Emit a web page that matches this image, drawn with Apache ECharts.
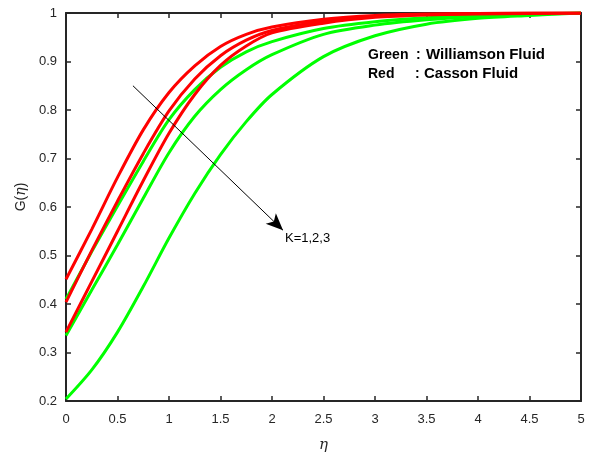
<!DOCTYPE html>
<html>
<head>
<meta charset="utf-8">
<script src="https://cdn.jsdelivr.net/npm/echarts@6/dist/echarts.min.js"></script>
<style>
  html, body { margin: 0; padding: 0; background: #fff; }
  #chart { width: 594px; height: 458px; }
</style>
</head>
<body>
<div id="chart"></div>
<script>
// eta values and G(eta)
const eta = [0, 0.25, 0.5, 0.75, 1, 1.25, 1.5, 1.75, 2, 2.5, 3, 3.5, 4, 4.5, 5];

// Williamson fluid (green), K = 1, 2, 3
const williamsonK1 = [0.410, 0.508, 0.602, 0.694, 0.780, 0.842, 0.888, 0.920, 0.941, 0.968, 0.982, 0.990, 0.995, 0.998, 1.0];
const williamsonK2 = [0.335, 0.429, 0.522, 0.618, 0.712, 0.787, 0.842, 0.883, 0.914, 0.956, 0.975, 0.986, 0.993, 0.997, 1.0];
const williamsonK3 = [0.204, 0.264, 0.342, 0.436, 0.536, 0.628, 0.708, 0.776, 0.832, 0.910, 0.953, 0.977, 0.989, 0.995, 1.0];

// Casson fluid (red), K = 1, 2, 3
const cassonK1 = [0.451, 0.554, 0.661, 0.759, 0.836, 0.891, 0.931, 0.956, 0.971, 0.987, 0.995, 0.998, 0.999, 1.0, 1.0];
const cassonK2 = [0.404, 0.510, 0.612, 0.710, 0.798, 0.864, 0.912, 0.944, 0.964, 0.983, 0.993, 0.997, 0.999, 1.0, 1.0];
const cassonK3 = [0.342, 0.446, 0.550, 0.654, 0.752, 0.832, 0.892, 0.932, 0.959, 0.979, 0.991, 0.996, 0.998, 0.999, 1.0];

// arrow annotation (data coords): tail and tip
const arrowFrom = [0.65, 0.85];
const arrowTo = [2.107, 0.552];

const axisColor = "#262626";
const font = "'Liberation Sans', Arial, sans-serif";

function pairs(ys) {
  return eta.map((x, i) => [x, ys[i]]);
}

function curve(name, color, ys) {
  return {
    name: name,
    type: "line",
    data: pairs(ys),
    smooth: 0.3,
    showSymbol: false,
    lineStyle: { color: color, width: 3 },
    itemStyle: { color: color },
    silent: true,
  };
}

const frameAxis = {
  min: 0,
  max: 5,
  interval: 0.5,
  axisLine: { show: true, onZero: false, lineStyle: { color: axisColor, width: 2 } },
  axisTick: { show: true, inside: true, length: 5, lineStyle: { color: axisColor, width: 1.5 } },
  splitLine: { show: false },
};

let myChart = echarts.init(document.getElementById("chart"));

const option = {
  animation: false,
  backgroundColor: "#fff",
  grid: { left: 66, right: 13, top: 13, bottom: 56 },
  xAxis: [
    Object.assign({}, frameAxis, {
      type: "value",
      position: "bottom",
      name: "η",
      nameLocation: "middle",
      nameGap: 37,
      nameTextStyle: { fontFamily: "'DejaVu Serif', serif", fontStyle: "italic", fontSize: 15, color: axisColor },
      axisLabel: { margin: 12, color: axisColor, fontSize: 13, fontFamily: font },
    }),
    Object.assign({}, frameAxis, {
      type: "value",
      position: "top",
      axisLabel: { show: false },
    }),
  ],
  yAxis: [
    Object.assign({}, frameAxis, {
      type: "value",
      position: "left",
      min: 0.2,
      max: 1,
      interval: 0.1,
      name: "{n|G(}{e|η}{n|)}",
      nameLocation: "middle",
      nameGap: 37,
      nameTextStyle: {
        padding: [0, 0, 0, 20],
        rich: {
          n: { fontFamily: font, fontSize: 14, color: axisColor },
          e: { fontFamily: "'DejaVu Serif', serif", fontStyle: "italic", fontSize: 14, color: axisColor },
        },
      },
      axisLabel: { margin: 9, color: axisColor, fontSize: 13, fontFamily: font },
    }),
    Object.assign({}, frameAxis, {
      type: "value",
      position: "right",
      min: 0.2,
      max: 1,
      interval: 0.1,
      axisLabel: { show: false },
    }),
  ],
  series: [
    curve("Williamson K=1", "#00ff00", williamsonK1),
    curve("Williamson K=2", "#00ff00", williamsonK2),
    curve("Williamson K=3", "#00ff00", williamsonK3),
    curve("Casson K=1", "#ff0000", cassonK1),
    curve("Casson K=2", "#ff0000", cassonK2),
    Object.assign(curve("Casson K=3", "#ff0000", cassonK3), {
      markLine: {
        silent: true,
        symbol: ["none", "arrow"],
        symbolSize: [11, 17],
        label: { show: false },
        lineStyle: { color: "#000", width: 1, type: "solid" },
        emphasis: { disabled: true },
        data: [[{ coord: arrowFrom }, { coord: arrowTo }]],
      },
    }),
  ],
  graphic: [
    { type: "text", left: 285, top: 232, style: { text: "K=1,2,3", fontSize: 13, fontFamily: font, fill: "#000" } },
    { type: "text", left: 368, top: 48, style: { text: "Green", fontSize: 14, fontWeight: "bold", fontFamily: font, fill: "#000" } },
    { type: "text", left: 416, top: 48, style: { text: ":", fontSize: 14, fontWeight: "bold", fontFamily: font, fill: "#000" } },
    { type: "text", left: 426, top: 47, style: { text: "Williamson Fluid", fontSize: 15, fontWeight: "bold", fontFamily: font, fill: "#000" } },
    { type: "text", left: 368, top: 67, style: { text: "Red", fontSize: 14, fontWeight: "bold", fontFamily: font, fill: "#000" } },
    { type: "text", left: 415, top: 67, style: { text: ":", fontSize: 14, fontWeight: "bold", fontFamily: font, fill: "#000" } },
    { type: "text", left: 424, top: 66, style: { text: "Casson Fluid", fontSize: 15, fontWeight: "bold", fontFamily: font, fill: "#000" } },
  ],
};

myChart.setOption(option);
</script>
</body>
</html>
